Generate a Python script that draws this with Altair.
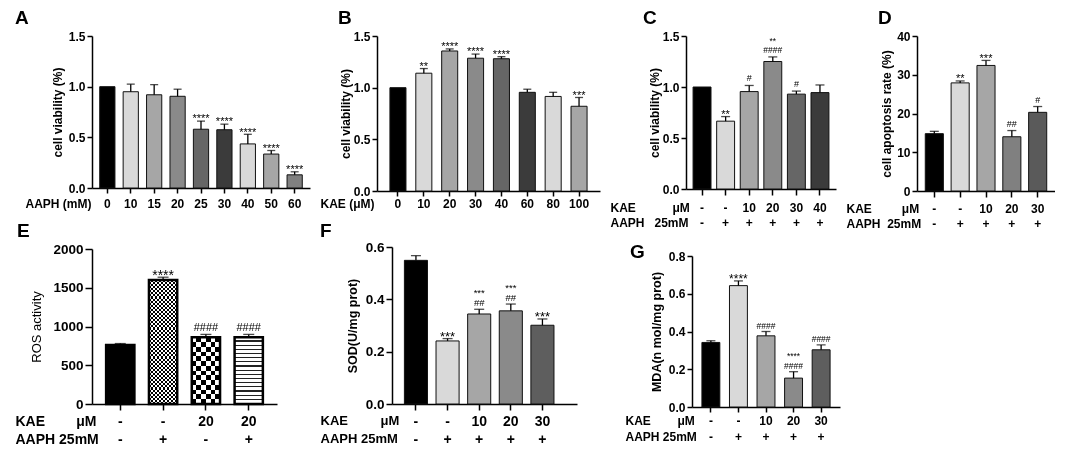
import altair as alt
import pandas as pd

FONT = "Liberation Sans"
NB = "\u00a0"

# ---------------- data ----------------
A_CATS = ["0", "10", "15", "20", "25", "30", "40", "50", "60"]
A_VALS = [1.00, 0.95, 0.92, 0.905, 0.58, 0.575, 0.435, 0.335, 0.13]
A_ERRS = [0.0, 0.075, 0.10, 0.07, 0.08, 0.055, 0.095, 0.035, 0.03]
A_STARS = ["", "", "", "", "****", "****", "****", "****", "****"]
A_HASH = ["", "", "", "", "", "", "", "", ""]

B_CATS = ["0", "10", "20", "30", "40", "60", "80", "100"]
B_VALS = [1.00, 1.14, 1.355, 1.285, 1.28, 0.955, 0.915, 0.82]
B_ERRS = [0.0, 0.045, 0.02, 0.04, 0.02, 0.03, 0.04, 0.085]
B_STARS = ["", "**", "****", "****", "****", "", "", "***"]
B_HASH = ["", "", "", "", "", "", "", ""]

C_KAE = ["-", "-", "10", "20", "30", "40"]
C_AAPH = ["-", "+", "+", "+", "+", "+"]
C_VALS = [1.00, 0.665, 0.955, 1.25, 0.93, 0.945]
C_ERRS = [0.0, 0.045, 0.06, 0.045, 0.03, 0.075]
C_STARS = ["", "**", "", "**", "", ""]
C_HASH = ["", "", "#", "####", "#", ""]

D_KAE = ["-", "-", "10", "20", "30"]
D_AAPH = ["-", "+", "+", "+", "+"]
D_VALS = [14.8, 27.9, 32.4, 14.0, 20.3]
D_ERRS = [0.6, 0.5, 1.3, 1.6, 1.5]
D_STARS = ["", "**", "***", "", ""]
D_HASH = ["", "", "", "##", "#"]

E_KAE = ["-", "-", "20", "20"]
E_AAPH = ["-", "+", "-", "+"]
E_VALS = [762, 1601, 860, 860]
E_ERRS = [18, 35, 38, 38]
E_STARS = ["", "****", "", ""]
E_HASH = ["", "", "####", "####"]

F_KAE = ["-", "-", "10", "20", "30"]
F_AAPH = ["-", "+", "+", "+", "+"]
F_VALS = [0.549, 0.241, 0.344, 0.356, 0.301]
F_ERRS = [0.018, 0.009, 0.018, 0.026, 0.024]
F_STARS = ["", "***", "***", "***", "***"]
F_HASH = ["", "", "##", "##", ""]

G_KAE = ["-", "-", "10", "20", "30"]
G_AAPH = ["-", "+", "+", "+", "+"]
G_VALS = [0.342, 0.643, 0.377, 0.153, 0.303]
G_ERRS = [0.009, 0.025, 0.023, 0.034, 0.026]
G_STARS = ["", "****", "", "****", ""]
G_HASH = ["", "", "####", "####", "####"]

VIAB_TICKS = [0, 0.5, 1.0, 1.5]
D_TICKS = [0, 10, 20, 30, 40]
E_TICKS = [0, 500, 1000, 1500, 2000]
F_TICKS = [0, 0.2, 0.4, 0.6]
G_TICKS = [0, 0.2, 0.4, 0.6, 0.8]

# ---------------- styles ----------------
PAL_A = ["#000000", "#d9d9d9", "#a6a6a6", "#8a8a8a", "#666666", "#3b3b3b", "#d9d9d9", "#a6a6a6", "#808080"]
PAL_B = ["#000000", "#d9d9d9", "#a6a6a6", "#8a8a8a", "#666666", "#3b3b3b", "#d9d9d9", "#a6a6a6"]
PAL_C = ["#000000", "#d9d9d9", "#a6a6a6", "#8a8a8a", "#666666", "#3b3b3b"]
PAL_D = ["#000000", "#d9d9d9", "#a6a6a6", "#808080", "#5a5a5a"]
PAL_FG = ["#000000", "#d9d9d9", "#a6a6a6", "#8a8a8a", "#5e5e5e"]


def keys_of(kae, aaph):
    return [f"{a}|{b}" for a, b in zip(kae, aaph)]


def stripes(n, c1, c2, along, frac=0.5):
    stops = []
    for i in range(n):
        a, m, b = i / n, (i + frac) / n, (i + 1) / n
        stops += [alt.GradientStop(offset=a, color=c1), alt.GradientStop(offset=m, color=c1),
                  alt.GradientStop(offset=m, color=c2), alt.GradientStop(offset=b, color=c2)]
    if along == "x":
        return alt.LinearGradient(gradient="linear", stops=stops, x1=0, x2=1, y1=0, y2=0)
    return alt.LinearGradient(gradient="linear", stops=stops, x1=0, x2=0, y1=0, y2=1)


def panel(letter, keys, vals, errs, stars, hashes, colors, P, bar_fn=None):
    lone_s = [s if not h else "" for s, h in zip(stars, hashes)]
    lone_h = [h if not s else "" for s, h in zip(stars, hashes)]
    stack = [s + "\n" + h if (s and h) else "" for s, h in zip(stars, hashes)]
    df = pd.DataFrame({"k": keys, "v": vals, "e": errs, "s": lone_s, "h": lone_h, "c": stack})
    xkw = dict(
        title=P["xtitle"], titleX=P["xtx"], titleY=P["xtick"] + P["xpad"],
        titleAlign="left", titleBaseline="top", titleFontSize=P.get("xtfs", P["xfs"]),
        titleFontWeight="bold", titleLineHeight=P["lh"],
        labelAngle=0, labelFontSize=P["xfs"], labelFontWeight="bold",
        labelLineHeight=P["lh"], labelPadding=P["xpad"], tickSize=P["xtick"],
        labelOverlap=False)
    if P.get("multi"):
        xkw["labelExpr"] = "split(datum.label, '|')"
    xaxis = alt.Axis(**xkw)
    yaxis = alt.Axis(values=P["yticks"], format=P["yfmt"], title=P["ytitle"],
                     titleFontSize=P["ytfs"], titleFontWeight=P["ytw"], titlePadding=P["ytpad"],
                     labelFontSize=P["ylfs"], labelFontWeight="bold", labelPadding=2,
                     tickSize=P["ytick"])
    xscale = alt.Scale(paddingInner=P["pi"], paddingOuter=P["po"], align=P.get("balign", 0.5))
    x = alt.X("k:N", sort=keys, axis=xaxis, scale=xscale)
    spacer = P.get("spacer")
    xo = alt.X("k:N", sort=keys, axis=None, scale=xscale) if spacer else x
    ysc = alt.Scale(domain=P["ydom"], nice=False)
    yv = alt.Y("v:Q", scale=ysc, axis=yaxis)
    yt = alt.Y("top:Q", scale=ysc, axis=yaxis)
    base = alt.Chart(df).transform_calculate(top="datum.v + datum.e")
    if bar_fn is None:
        bars = [base.mark_bar(stroke="#111111", strokeWidth=1).encode(
            x=x, y=yv, color=alt.Color("k:N", scale=alt.Scale(domain=keys, range=colors), legend=None))]
    else:
        bars = bar_fn(base, x, yv, keys)
    err = base.transform_filter("datum.e > 0").mark_rule(color="black", strokeWidth=1.3).encode(
        x=xo, y=yv, y2="top:Q")
    cap = base.transform_filter("datum.e > 0").mark_tick(color="black", thickness=1.3, size=P["cap"]).encode(
        x=xo, y=yt)
    hd = P["hgap"]
    hash_t = base.transform_filter("datum.h != ''").mark_text(
        font=FONT, fontSize=P["hfs"], baseline="alphabetic", dy=-hd, color="black").encode(
        x=xo, y=yt, text="h:N")
    star_t = base.transform_filter("datum.s != ''").mark_text(
        font=FONT, fontSize=P["sfs"], baseline="alphabetic", dy=0.57 * P["sfs"] - 5, color="black").encode(
        x=xo, y=yt, text="s:N")
    cfs = P.get("cfs", 9)
    clh = round(cfs * 1.1, 1)
    stack_t = base.transform_filter("datum.c != ''").mark_text(
        font=FONT, fontSize=cfs, baseline="alphabetic", lineBreak="\n",
        lineHeight=clh, dy=-hd - clh, color="black").encode(
        x=xo, y=yt, text="c:N")
    layers = bars + [err, cap, hash_t, star_t, stack_t]
    if spacer:
        # invisible top axis line that reserves room above the panel
        top_axis = alt.Axis(orient="top", offset=spacer, labels=False, ticks=False,
                            domainOpacity=0, title=None, grid=False)
        layers.append(base.mark_bar(opacity=0).encode(
            x=alt.X("k:N", sort=keys, axis=top_axis, scale=xscale), y=yv))
    chart = alt.layer(*layers)
    if spacer:
        chart = chart.resolve_axis(x="independent")
    return chart.properties(
        width=P["w"], height=P["h"],
        title=alt.TitleParams(text=letter, anchor="start", align="left", dx=P["tdx"],
                              offset=P["toff"], fontSize=19, font=FONT, fontWeight="bold",
                              frame="group", color="black"))


def e_bars(base, x, yv, keys):
    solid = base.transform_filter(alt.datum.k == keys[0]).mark_bar(fill="black").encode(x=x, y=yv)
    f1 = base.transform_filter(alt.datum.k == keys[1]).mark_bar(
        fill=stripes(7, "black", "white", "x")).encode(x=x, y=yv)
    f2 = base.transform_filter(alt.datum.k == keys[1]).mark_bar(
        fill=stripes(30, "white", "black", "y"), blend="difference").encode(x=x, y=yv)
    c1 = base.transform_filter(alt.datum.k == keys[2]).mark_bar(
        fill=stripes(3, "black", "white", "x")).encode(x=x, y=yv)
    c2 = base.transform_filter(alt.datum.k == keys[2]).mark_bar(
        fill=stripes(7, "white", "black", "y"), blend="difference").encode(x=x, y=yv)
    st = base.transform_filter(alt.datum.k == keys[3]).mark_bar(
        fill=stripes(16, "white", "#222222", "y", frac=0.72)).encode(x=x, y=yv)
    outline = base.mark_bar(fillOpacity=0, stroke="black", strokeWidth=2.5).encode(x=x, y=yv)
    return [solid, f1, f2, c1, c2, st, outline]


COMMON = dict(ytw="bold", ytfs=12, ylfs=12, ytick=5, hgap=4, sfs=11, hfs=9, lh=15, xfs=12)

PA = dict(COMMON, w=218, h=152, pi=0.35, po=0.33, xtick=5, xpad=5, xtitle="AAPH (mM)", xtx=-67,
          yticks=VIAB_TICKS, yfmt=".1f", ytitle="cell viability (%)", ytpad=4, ydom=[0, 1.5],
          tdx=-77, toff=2, cap=8)
PB = dict(COMMON, w=223, h=155, pi=0.38, po=0.5, xtick=5, xpad=2, xtitle="KAE (μM)", xtx=-57,
          yticks=VIAB_TICKS, yfmt=".1f", ytitle="cell viability (%)", ytpad=1, ydom=[0, 1.5],
          tdx=-39, toff=2, cap=8)
PC = dict(COMMON, w=150, h=153, pi=0.24, po=0.3, xtick=6, xpad=7, multi=True,
          xtitle=["KAE" + NB * 11 + "μM", "AAPH" + NB * 3 + "25mM"], xtx=-76,
          yticks=VIAB_TICKS, yfmt=".1f", ytitle="cell viability (%)", ytpad=1, ydom=[0, 1.5],
          tdx=-43, toff=2, cap=9, cfs=8.5)
PD = dict(COMMON, w=138, h=155, pi=0.3, po=0.32, xtick=6, xpad=6, multi=True,
          xtitle=["KAE" + NB * 9 + "μM", "AAPH" + NB * 2 + "25mM"], xtx=-71,
          yticks=D_TICKS, yfmt="d", ytitle="cell apoptosis rate (%)", ytpad=3, ydom=[0, 40],
          tdx=-39, toff=2, cap=9)
PE = dict(COMMON, w=185, h=155, pi=0.34, po=0.33, xfs=14, xtick=6, xpad=4, lh=18, multi=True,
          xtitle=["KAE" + NB * 8 + "μM", "AAPH" + NB * 1 + "25mM"], xtx=-77,
          yticks=E_TICKS, yfmt="d", ytitle="ROS activity", ytfs=13, ytw="normal", ylfs=13.5,
          ytick=7, ytpad=9, ydom=[0, 2000], tdx=-75, toff=1, cap=11, sfs=14, hfs=11, hgap=3)
PF = dict(COMMON, w=185, h=157, pi=0.27, po=0.56, balign=0.35, xfs=14, xtfs=13, xtick=6, xpad=4,
          lh=18, multi=True,
          xtitle=["KAE" + NB * 9 + "μM", "AAPH" + NB * 1 + "25mM"], xtx=-72,
          yticks=F_TICKS, yfmt=".1f", ytitle="SOD(U/mg prot)", ytfs=12.5, ylfs=13.5, ytick=6,
          ytpad=6, ydom=[0, 0.6], tdx=-72, toff=-1, cap=10, sfs=13, hfs=9, cfs=9.5, hgap=3)
PG = dict(COMMON, w=148, h=151, pi=0.35, po=0.36, xtick=5, xpad=3, lh=16, multi=True,
          xtitle=["KAE" + NB * 8 + "μM", "AAPH" + NB * 1 + "25mM"], xtx=-67,
          yticks=G_TICKS, yfmt=".1f", ytitle="MDA(n mol/mg prot)", ytfs=12.5, ytpad=5,
          ydom=[0, 0.8], tdx=-62, toff=-40, cap=9, sfs=12, hfs=8.5, cfs=8.5, hgap=3,
          spacer=34)

pA = panel("A", A_CATS, A_VALS, A_ERRS, A_STARS, A_HASH, PAL_A, PA)
pB = panel("B", B_CATS, B_VALS, B_ERRS, B_STARS, B_HASH, PAL_B, PB)
pC = panel("C", keys_of(C_KAE, C_AAPH), C_VALS, C_ERRS, C_STARS, C_HASH, PAL_C, PC)
pD = panel("D", keys_of(D_KAE, D_AAPH), D_VALS, D_ERRS, D_STARS, D_HASH, PAL_D, PD)
pE = panel("E", keys_of(E_KAE, E_AAPH), E_VALS, E_ERRS, E_STARS, E_HASH, None, PE, bar_fn=e_bars)
pF = panel("F", keys_of(F_KAE, F_AAPH), F_VALS, F_ERRS, F_STARS, F_HASH, PAL_FG, PF)
pG = panel("G", keys_of(G_KAE, G_AAPH), G_VALS, G_ERRS, G_STARS, G_HASH, PAL_FG, PG)

chart = alt.concat(pA, pB, pC, pD, pE, pF, pG, columns=4, align="none", bounds="full",
                   spacing={"row": -7, "column": 10}).resolve_scale(color="independent").properties(
    padding={"left": 7, "top": 1, "right": 0, "bottom": 0}, background="white"
).configure_view(stroke=None).configure_axis(
    grid=False, domainColor="black", tickColor="black", labelColor="black", titleColor="black",
    labelFont=FONT, titleFont=FONT, domainWidth=1.5, tickWidth=1.5
).configure_title(font=FONT)

chart.save("out.html", embed_options={"renderer": "svg", "actions": False})
